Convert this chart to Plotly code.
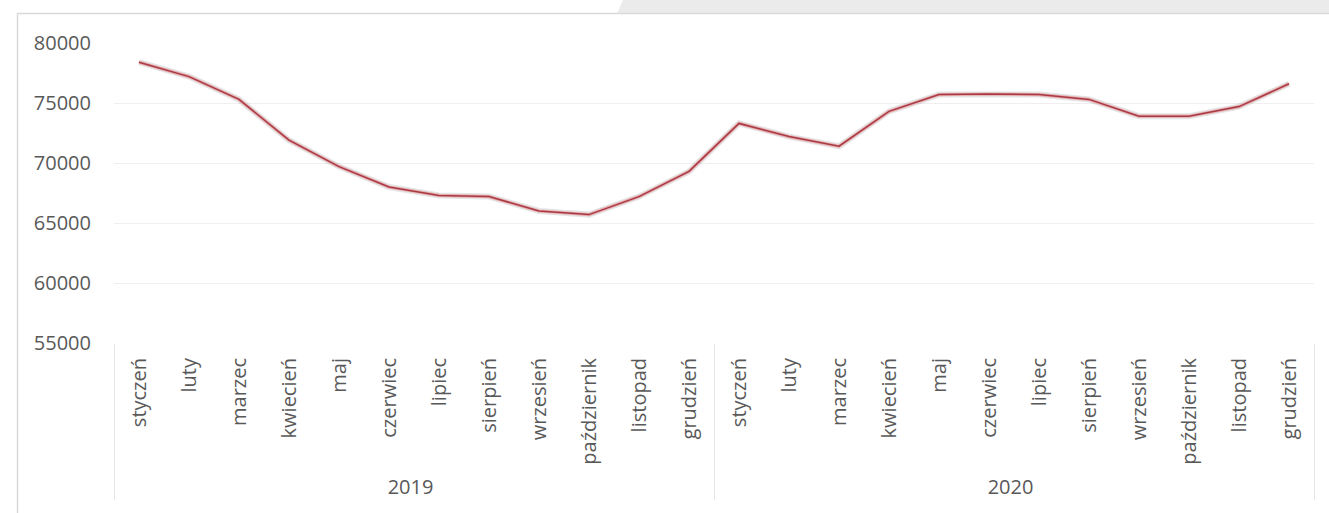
import plotly.graph_objects as go

years = ["2019"] * 12 + ["2020"] * 12
months = ["styczeń", "luty", "marzec", "kwiecień", "maj", "czerwiec", "lipiec",
          "sierpień", "wrzesień", "październik", "listopad", "grudzień"] * 2
values = [78400, 77200, 75300, 71900, 69700, 68000, 67300, 67200, 66000, 65700, 67200, 69300,
          73300, 72200, 71400, 74300, 75700, 75750, 75700, 75300, 73900, 73900, 74700, 76600]
y_ticks = [55000, 60000, 65000, 70000, 75000, 80000]

W, H = 1329, 513
ML, MR, MT, MB = 114, 15, 43, 170
FONT = dict(family="Open Sans, DejaVu Sans, sans-serif", size=20, color="#595959")

fig = go.Figure()
x = [years, months]
# soft shadow under the line
fig.add_trace(go.Scatter(x=x, y=values, mode="lines",
                         line=dict(color="rgba(90,90,90,0.16)", width=6),
                         hoverinfo="skip", showlegend=False))
# pinkish halo
fig.add_trace(go.Scatter(x=x, y=values, mode="lines",
                         line=dict(color="#e8a9ac", width=3.2),
                         hoverinfo="skip", showlegend=False))
# main line
fig.add_trace(go.Scatter(x=x, y=values, mode="lines",
                         line=dict(color="#a83a44", width=1.5),
                         showlegend=False))

fig.update_layout(
    width=W, height=H,
    margin=dict(l=ML, r=MR, t=MT, b=MB, autoexpand=False),
    paper_bgcolor="white", plot_bgcolor="white",
    font=FONT,
    xaxis=dict(type="multicategory", tickangle=-90, showgrid=False,
               range=[-0.5, 23.5], automargin=False,
               showline=False, ticks="", showdividers=True,
               dividercolor="#e6e6e6", dividerwidth=1,
               ticklabelstandoff=10, tickfont=FONT),
    yaxis=dict(range=[55000, 80000], tickvals=y_ticks, automargin=False,
               tickformat="d", showgrid=True, gridcolor="#efefef",
               gridwidth=1, zeroline=False, showline=False, ticks="",
               ticklabelstandoff=22, tickfont=FONT),
)


def px_x(p):
    return (p - ML) / (W - ML - MR)


def px_y(p):
    return (H - MB - p) / (H - MT - MB)


shapes = [
    dict(type="path", xref="paper", yref="paper", layer="below",
         path=f"M {px_x(617)} {px_y(13.5)} L {px_x(623)} {px_y(0)} L {px_x(W)} {px_y(0)} L {px_x(W)} {px_y(13.5)} Z",
         fillcolor="#ebebeb", line=dict(width=0)),
    dict(type="line", xref="paper", yref="paper",
         x0=px_x(17), x1=px_x(W), y0=px_y(13.5), y1=px_y(13.5),
         line=dict(color="#d9d9d9", width=1.5)),
    dict(type="line", xref="paper", yref="paper",
         x0=px_x(17.5), x1=px_x(17.5), y0=px_y(13.5), y1=px_y(H),
         line=dict(color="#d9d9d9", width=1.5)),
]
fig.update_layout(shapes=shapes)

fig.write_html("out.html", config={"displayModeBar": False},
               post_script="document.body.style.margin='0';document.body.style.overflow='hidden';")
